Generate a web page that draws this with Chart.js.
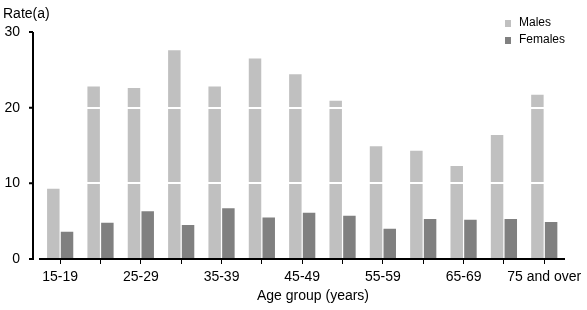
<!DOCTYPE html>
<html>
<head>
<meta charset="utf-8">
<script src="https://cdn.jsdelivr.net/npm/chart.js@4.4.1/dist/chart.umd.min.js"></script>
<style>
    html, body { margin: 0; padding: 0; background: #fff; }
    #wrap { width: 587px; height: 310px; position: relative; }
</style>
</head>
<body>
<div id="wrap"><canvas id="chart"></canvas></div>
<script>
const ageGroups = ['15-19', '20-24', '25-29', '30-34', '35-39', '40-44', '45-49',
    '50-54', '55-59', '60-64', '65-69', '70-74', '75 and over'];
const males = [9.3, 22.8, 22.6, 27.6, 22.8, 26.5, 24.4, 20.9, 14.9, 14.3, 12.3, 16.4, 21.7];
const females = [3.6, 4.8, 6.3, 4.5, 6.7, 5.5, 6.1, 5.7, 4.0, 5.3, 5.2, 5.3, 4.9];
const yTicks = [0, 10, 20, 30];

const FONT = '"Liberation Sans", Arial, sans-serif';
const MALE_COLOR = '#c0c0c0';
const FEMALE_COLOR = '#808080';
const Y_AXIS_X = 33;

// y axis line sits a few px left of the plot, like the original
const yAxisLine = {
    id: 'yAxisLine',
    afterDraw(chart) {
        const ctx = chart.ctx;
        const y = chart.scales.y;
        ctx.save();
        ctx.strokeStyle = '#000';
        ctx.lineWidth = 2;
        ctx.beginPath();
        ctx.moveTo(Y_AXIS_X, y.getPixelForValue(30));
        ctx.lineTo(Y_AXIS_X, y.getPixelForValue(0) + 1);
        y.ticks.forEach((t) => {
            const py = y.getPixelForValue(t.value);
            ctx.moveTo(Y_AXIS_X - 4, py);
            ctx.lineTo(Y_AXIS_X, py);
        });
        ctx.stroke();
        ctx.restore();
    },
};

// texts outside the axes: y unit, legend, x title
const extraText = {
    id: 'extraText',
    afterDraw(chart) {
        const ctx = chart.ctx;
        ctx.save();
        ctx.fillStyle = '#000';
        ctx.textBaseline = 'middle';
        ctx.font = '14px ' + FONT;
        ctx.textAlign = 'left';
        ctx.fillText('Rate(a)', 3, 14);

        ctx.textAlign = 'center';
        ctx.fillText('Age group (years)', 313, 296);

        ctx.font = '12px ' + FONT;
        ctx.textAlign = 'left';
        chart.data.datasets.forEach((ds, i) => {
            const y = 23 + i * 17;
            ctx.fillStyle = ds.backgroundColor;
            ctx.fillRect(505, y - 3, 6, 7);
            ctx.fillStyle = '#000';
            ctx.fillText(ds.label, 519, y);
        });
        ctx.restore();
    },
};

new Chart(document.getElementById('chart'), {
    type: 'bar',
    data: {
        labels: ageGroups,
        datasets: [
            { label: 'Males', data: males, backgroundColor: MALE_COLOR },
            { label: 'Females', data: females, backgroundColor: FEMALE_COLOR },
        ],
    },
    options: {
        responsive: true,
        maintainAspectRatio: false,
        animation: false,
        layout: { padding: { left: 0, top: 32, right: 20, bottom: 0 } },
        datasets: {
            bar: { categoryPercentage: 0.68, barPercentage: 0.91 },
        },
        plugins: {
            legend: { display: false },
            tooltip: { enabled: false },
        },
        scales: {
            x: {
                afterFit: (scale) => { scale.height = 51; },
                grid: {
                    offset: false,
                    drawOnChartArea: false,
                    tickColor: '#000',
                    tickLength: 5,
                },
                border: { color: '#000', width: 2, z: 2 },
                ticks: {
                    autoSkip: false,
                    maxRotation: 0,
                    padding: 5,
                    color: '#000',
                    font: { family: FONT, size: 14 },
                    callback: (v, i) => (i % 2 === 0 ? ageGroups[i] : ''),
                },
            },
            y: {
                min: 0,
                max: 30,
                afterFit: (scale) => { scale.width = 40; },
                afterBuildTicks: (scale) => {
                    scale.ticks = yTicks.map((v) => ({ value: v }));
                },
                grid: {
                    z: 1,
                    color: (c) => (c.tick && c.tick.value > 0 && c.tick.value < 30 ? '#fff' : 'rgba(0,0,0,0)'),
                    lineWidth: 2,
                    drawTicks: false,
                },
                border: { display: false },
                ticks: {
                    padding: 20,
                    color: '#000',
                    font: { family: FONT, size: 14 },
                },
            },
        },
    },
    plugins: [yAxisLine, extraText],
});
</script>
</body>
</html>
